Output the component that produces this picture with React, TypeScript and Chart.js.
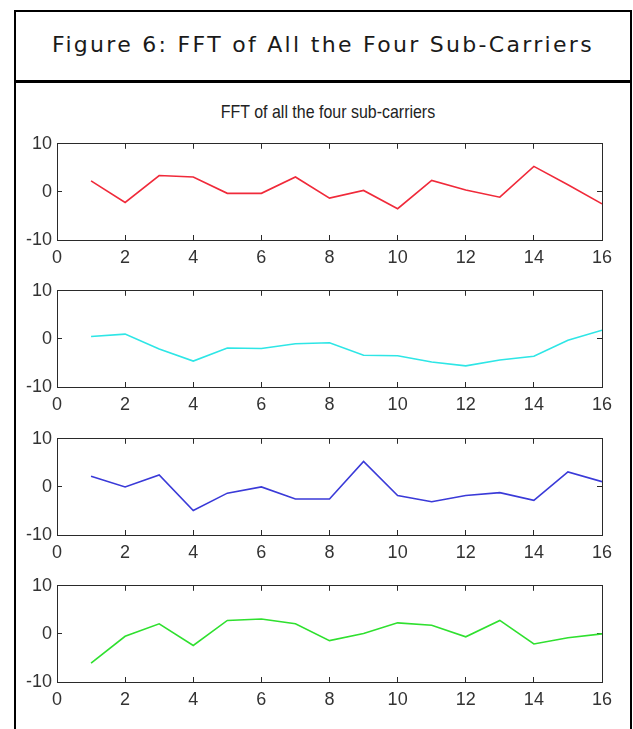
import React, { useEffect, useRef } from "react";
import { Chart, registerables } from "chart.js";

Chart.register(...registerables);

// ---- data ----
const xValues = [1, 2, 3, 4, 5, 6, 7, 8, 9, 10, 11, 12, 13, 14, 15, 16];
const xTickStep = 2;
const yTickStep = 10;
const xMin = 0;
const xMax = 16;
const yMin = -10;
const yMax = 10;

const carrier1 = [2.3, -2.2, 3.4, 3.1, -0.3, -0.3, 3.1, -1.3, 0.3, -3.5, 2.4, 0.4, -1.1, 5.3, 1.5, -2.5];
const carrier2 = [0.5, 1.0, -2.1, -4.6, -1.9, -2.0, -1.0, -0.8, -3.4, -3.5, -4.8, -5.6, -4.4, -3.6, -0.3, 1.8];
const carrier3 = [2.2, 0.0, 2.5, -4.9, -1.3, 0.0, -2.5, -2.5, 5.3, -1.8, -3.1, -1.8, -1.2, -2.8, 3.1, 1.1];
const carrier4 = [-6.1, -0.5, 2.1, -2.4, 2.8, 3.1, 2.1, -1.4, 0.1, 2.3, 1.8, -0.6, 2.8, -2.1, -0.8, 0.0];

const seriesList = [carrier1, carrier2, carrier3, carrier4];
const seriesColors = ["#f02a3a", "#2ee6e6", "#3a3ad8", "#2fe02f"];

const headerText = "Figure 6: FFT of All the Four Sub-Carriers";
const plotTitle = "FFT of all the four sub-carriers";

// ---- styles ----
const AXIS_COLOR = "#2a2a2a";
const TICK_FONT = { family: "'Liberation Sans', Arial, sans-serif", size: 18 };

function SubPlot({ values, color, plotTop }: { values: number[]; color: string; plotTop: number }) {
  const ref = useRef<HTMLCanvasElement | null>(null);
  useEffect(() => {
    if (!ref.current) return;
    const gridOpts = { drawOnChartArea: false, drawTicks: true, tickLength: -5, color: AXIS_COLOR, lineWidth: 1 };
    const borderOpts = { display: true, color: AXIS_COLOR, width: 1 };
    const chart = new Chart(ref.current, {
      type: "line",
      data: {
        datasets: [
          {
            data: xValues.map((x, i) => ({ x, y: values[i] })),
            borderColor: color,
            borderWidth: 1.6,
            pointRadius: 0,
            tension: 0,
            fill: false,
          },
        ],
      },
      options: {
        animation: false,
        responsive: false,
        maintainAspectRatio: false,
        layout: { padding: { top: 14, right: 26, left: 0, bottom: 0 } },
        plugins: { legend: { display: false }, tooltip: { enabled: false }, title: { display: false } },
        scales: {
          x: {
            type: "linear",
            position: "bottom",
            min: xMin,
            max: xMax,
            ticks: { stepSize: xTickStep, font: TICK_FONT, color: "#333", padding: 12, maxRotation: 0 },
            grid: gridOpts,
            border: borderOpts,
            afterFit: (s: any) => {
              s.height = 32;
            },
          },
          x2: {
            type: "linear",
            axis: "x",
            position: "top",
            min: xMin,
            max: xMax,
            ticks: { stepSize: xTickStep, display: false },
            grid: gridOpts,
            border: borderOpts,
            afterFit: (s: any) => {
              s.height = 0;
            },
          },
          y: {
            type: "linear",
            position: "left",
            min: yMin,
            max: yMax,
            ticks: { stepSize: yTickStep, font: TICK_FONT, color: "#333", padding: 10 },
            grid: gridOpts,
            border: borderOpts,
            afterFit: (s: any) => {
              s.width = 49;
            },
          },
          y2: {
            type: "linear",
            axis: "y",
            position: "right",
            min: yMin,
            max: yMax,
            ticks: { stepSize: yTickStep, display: false },
            grid: gridOpts,
            border: borderOpts,
            afterFit: (s: any) => {
              s.width = 0;
            },
          },
        },
      } as any,
    });
    return () => chart.destroy();
  }, [values, color]);
  return (
    <canvas
      ref={ref}
      width={620}
      height={149}
      style={{ position: "absolute", left: 8, top: plotTop - 14, width: 620, height: 149 }}
    />
  );
}

export default function App() {
  const plotTops = [137, 284, 432, 579];
  return (
    <div style={{ position: "absolute", left: 0, top: 0, width: 633, height: 729, background: "#fff", overflow: "hidden" }}>
      {/* frame */}
      <div style={{ position: "absolute", left: 14, top: 10, width: 2, height: 719, background: "#000" }} />
      <div style={{ position: "absolute", left: 630, top: 10, width: 2, height: 719, background: "#000" }} />
      <div style={{ position: "absolute", left: 14, top: 10, width: 618, height: 2, background: "#000" }} />
      <div style={{ position: "absolute", left: 14, top: 80, width: 618, height: 3, background: "#000" }} />
      <div
        style={{
          position: "absolute",
          left: 16,
          top: 31,
          width: 614,
          textAlign: "center",
          fontFamily: "'DejaVu Sans', sans-serif",
          fontSize: 22,
          lineHeight: "28px",
          letterSpacing: 2.3,
          color: "#1a1a1a",
          whiteSpace: "nowrap",
        }}
      >
        {headerText}
      </div>
      <div
        style={{
          position: "absolute",
          left: 128,
          top: 100,
          width: 400,
          textAlign: "center",
          fontFamily: "'Liberation Sans', Arial, sans-serif",
          fontSize: 19,
          lineHeight: "24px",
          color: "#222",
          transform: "scaleX(0.84)",
          transformOrigin: "50% 50%",
          whiteSpace: "nowrap",
        }}
      >
        {plotTitle}
      </div>
      {seriesList.map((s, i) => (
        <SubPlot key={i} values={s} color={seriesColors[i]} plotTop={plotTops[i]} />
      ))}
    </div>
  );
}
